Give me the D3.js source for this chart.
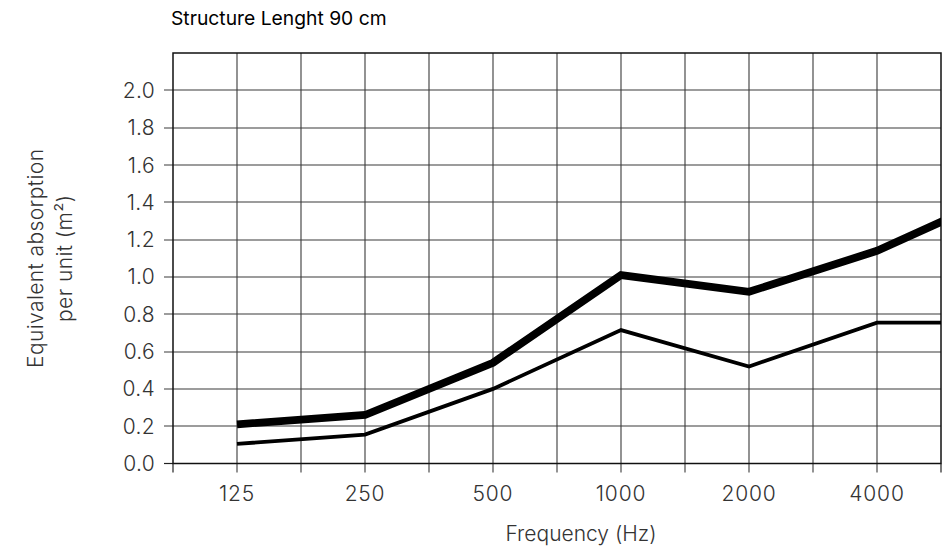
<!DOCTYPE html>
<html>
<head>
<meta charset="utf-8">
<script src="https://cdn.jsdelivr.net/npm/d3@7"></script>
<style>
  html, body { margin: 0; padding: 0; background: #fff; }
  svg { display: block; }
</style>
</head>
<body>
<svg id="chart" width="944" height="552"></svg>
<script>
// ---- data ----
const title = "Structure Lenght 90 cm";
const frequencies = ["125", "250", "500", "1000", "2000", "4000", "8000"];
const tickLabels = ["125", "250", "500", "1000", "2000", "4000"];
const seriesThick = [0.21, 0.26, 0.54, 1.01, 0.92, 1.14, 1.45];
const seriesThin = [0.105, 0.155, 0.40, 0.715, 0.52, 0.755, 0.755];
const yTicks = [0.0, 0.2, 0.4, 0.6, 0.8, 1.0, 1.2, 1.4, 1.6, 1.8, 2.0];
const yLabelLines = ["Equivalent absorption", "per unit (m²)"];
const xLabel = "Frequency (Hz)";

// ---- layout ----
const L = 173, R = 941, T = 53, B = 463.5;
const svg = d3.select("#chart");
const font = "Inter, 'Liberation Sans', sans-serif";

const x = d3.scaleLinear().domain([-0.5, tickLabels.length - 0.5]).range([L, R]);
const y = d3.scaleLinear().domain([0, 2.2]).range([B, T]);

// grid: vertical lines at every half step
const vGrid = d3.range(-0.5, tickLabels.length - 0.5 + 0.01, 0.5);
svg.append("g").selectAll("line").data(vGrid.slice(1, -1)).join("line")
  .attr("x1", d => Math.round(x(d))).attr("x2", d => Math.round(x(d)))
  .attr("y1", T).attr("y2", B + 9)
  .attr("stroke", "#3a3a3a").attr("stroke-width", 1.1);

// horizontal grid
svg.append("g").selectAll("line").data(yTicks.slice(1)).join("line")
  .attr("x1", L - 9).attr("x2", R)
  .attr("y1", d => Math.round(y(d))).attr("y2", d => Math.round(y(d)))
  .attr("stroke", "#3a3a3a").attr("stroke-width", 1.1);

// zero tick
svg.append("line").attr("x1", L - 9).attr("x2", L).attr("y1", y(0)).attr("y2", y(0))
  .attr("stroke", "#222").attr("stroke-width", 1.2);

// frame
svg.append("rect").attr("x", L).attr("y", T).attr("width", R - L).attr("height", B - T)
  .attr("fill", "none").attr("stroke", "#111").attr("stroke-width", 1.5);
svg.append("line").attr("x1", L).attr("x2", L).attr("y1", B).attr("y2", B + 9)
  .attr("stroke", "#222").attr("stroke-width", 1.2);
svg.append("line").attr("x1", R).attr("x2", R).attr("y1", B).attr("y2", B + 9)
  .attr("stroke", "#222").attr("stroke-width", 1.2);

// y tick labels
svg.append("g").selectAll("text").data(yTicks).join("text")
  .attr("x", L - 18).attr("y", d => y(d)).attr("dy", "0.36em")
  .attr("text-anchor", "end")
  .attr("font-family", font).attr("font-weight", 300).attr("font-size", 21)
  .attr("letter-spacing", 0.3)
  .attr("fill", "#333")
  .text(d => d.toFixed(1));

// x tick labels
svg.append("g").selectAll("text").data(tickLabels).join("text")
  .attr("x", (d, i) => x(i)).attr("y", 501)
  .attr("text-anchor", "middle")
  .attr("font-family", font).attr("font-weight", 300).attr("font-size", 21)
  .attr("letter-spacing", 0.8)
  .attr("fill", "#333")
  .text(d => d);

// clip for lines
svg.append("clipPath").attr("id", "plotclip")
  .append("rect").attr("x", L).attr("y", T).attr("width", R - L).attr("height", B - T);

const line = d3.line().x((d, i) => x(i)).y(d => y(d));
const lines = svg.append("g").attr("clip-path", "url(#plotclip)");
lines.append("path").datum(seriesThin).attr("d", line)
  .attr("fill", "none").attr("stroke", "#000").attr("stroke-width", 3.8)
  .attr("stroke-linejoin", "miter");
lines.append("path").datum(seriesThick).attr("d", line)
  .attr("fill", "none").attr("stroke", "#000").attr("stroke-width", 7.8)
  .attr("stroke-linejoin", "miter");

// title
svg.append("text").attr("x", 171).attr("y", 25)
  .attr("font-family", font).attr("font-weight", 400).attr("font-size", 19.3)
  .attr("fill", "#000").text(title);

// y label
const yl = svg.append("text")
  .attr("transform", `translate(0, ${(T + B) / 2}) rotate(-90)`)
  .attr("text-anchor", "middle")
  .attr("font-family", font).attr("font-weight", 300).attr("font-size", 21)
  .attr("letter-spacing", 0.4)
  .attr("fill", "#333");
yl.selectAll("tspan").data(yLabelLines).join("tspan")
  .attr("x", 0).attr("y", (d, i) => 43 + i * 29)
  .text(d => d);

// x label
svg.append("text").attr("x", 581).attr("y", 541)
  .attr("text-anchor", "middle")
  .attr("font-family", font).attr("font-weight", 300).attr("font-size", 21)
  .attr("fill", "#333").text(xLabel);
</script>
</body>
</html>
